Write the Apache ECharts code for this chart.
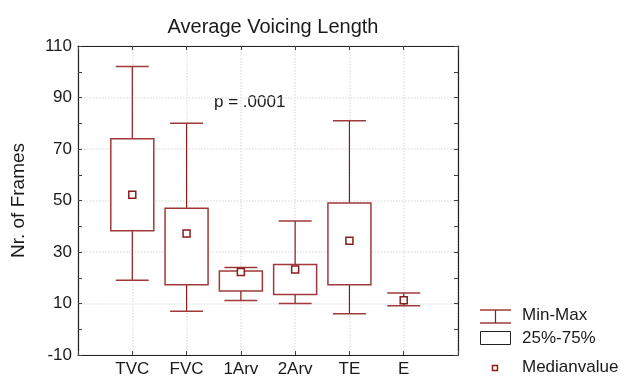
<!DOCTYPE html>
<html lang="en">
<head>
<meta charset="UTF-8">
<title>Average Voicing Length</title>
<script src="https://cdn.jsdelivr.net/npm/echarts@6/dist/echarts.min.js"></script>
<style>
  html, body { margin: 0; padding: 0; background: #fff; }
  #chart { width: 628px; height: 378px; }
</style>
</head>
<body>
<div id="chart"></div>
<script>
// data
var categories = ['', 'TVC', 'FVC', '1Arv', '2Arv', 'TE', 'E', ''];
var groups = ['TVC', 'FVC', '1Arv', '2Arv', 'TE', 'E'];
var minValues = [19, 7, 11.2, 10, 6, 9.1];
var q1Values = [38.3, 17.3, 14.9, 13.5, 17.3, 11.3];
var medianValues = [52.2, 37.2, 22.2, 23.2, 34.4, 11.3];
var q3Values = [74, 47, 22.6, 25.1, 49, 11.3];
var maxValues = [102, 80, 24, 42, 81, 14.1];
var yTicks = { min: -10, max: 110, step: 20 };

var RED = '#8b1c1c';
var BOX = '#a03a3a';
var FONT = '"Liberation Sans", Arial, sans-serif';

var boxData = groups.map(function (g, i) {
  return [g, minValues[i], q1Values[i], medianValues[i], q3Values[i], maxValues[i]];
});

function renderBox(params, api) {
  var x = api.coord([api.value(0), 0])[0];
  var pMin = api.coord([api.value(0), api.value(1)])[1];
  var pQ1 = api.coord([api.value(0), api.value(2)])[1];
  var pMed = api.coord([api.value(0), api.value(3)])[1];
  var pQ3 = api.coord([api.value(0), api.value(4)])[1];
  var pMax = api.coord([api.value(0), api.value(5)])[1];
  var boxW = 43, capW = 33, sq = 7;
  var kids = [
    { type: 'line', shape: { x1: x, y1: pMin, x2: x, y2: pMax }, style: { stroke: RED, lineWidth: 1.2 } },
    { type: 'line', shape: { x1: x - capW / 2, y1: pMin, x2: x + capW / 2, y2: pMin }, style: { stroke: BOX, lineWidth: 1.5 } },
    { type: 'line', shape: { x1: x - capW / 2, y1: pMax, x2: x + capW / 2, y2: pMax }, style: { stroke: BOX, lineWidth: 1.5 } }
  ];
  if (pQ1 - pQ3 > 0.5) {
    kids.push({ type: 'rect', shape: { x: x - boxW / 2, y: pQ3, width: boxW, height: pQ1 - pQ3 },
      style: { fill: '#fff', stroke: BOX, lineWidth: 1.5 } });
  }
  kids.push({ type: 'rect', shape: { x: x - sq / 2, y: pMed - sq / 2, width: sq, height: sq },
    style: { fill: '#fff', stroke: RED, lineWidth: 1.5 } });
  return { type: 'group', children: kids };
}

var gridLine = { show: true, lineStyle: { color: '#e4e4e4', type: 'dotted', width: 1.5 } };

var option = {
  backgroundColor: '#fff',
  animation: false,
  title: {
    text: 'Average Voicing Length',
    left: 268, top: 12, textAlign: 'center',
    textStyle: { fontFamily: FONT, fontSize: 20, fontWeight: 'normal', color: '#1a1a1a' }
  },
  grid: { left: 78, right: 170, top: 46, bottom: 22 },
  xAxis: [{
    type: 'category', data: categories, boundaryGap: false,
    axisLine: { onZero: false, lineStyle: { color: '#222', width: 1.2 } },
    axisTick: { show: true, inside: true, length: 4, lineStyle: { color: '#444' } },
    axisLabel: { fontFamily: FONT, fontSize: 17, color: '#1a1a1a', margin: 6 },
    splitLine: gridLine
  }, {
    type: 'category', data: categories, boundaryGap: false, position: 'top',
    axisLine: { onZero: false, lineStyle: { color: '#222', width: 1.2 } },
    axisTick: { show: true, inside: true, length: 4, lineStyle: { color: '#444' } },
    axisLabel: { show: false }
  }],
  yAxis: [{
    type: 'value', min: yTicks.min, max: yTicks.max, interval: yTicks.step,
    name: 'Nr. of Frames', nameLocation: 'middle', nameGap: 50, nameRotate: 90,
    nameTextStyle: { fontFamily: FONT, fontSize: 19, color: '#1a1a1a' },
    axisLine: { show: true, onZero: false, lineStyle: { color: '#222', width: 1.2 } },
    axisTick: { show: true, inside: true, length: 4, lineStyle: { color: '#444' } },
    minorTick: { show: true, splitNumber: 2, length: 4, lineStyle: { color: '#444' } },
    axisLabel: { fontFamily: FONT, fontSize: 17, color: '#1a1a1a', margin: 6 },
    splitLine: gridLine
  }, {
    type: 'value', min: yTicks.min, max: yTicks.max, interval: yTicks.step, position: 'right',
    axisLine: { show: true, onZero: false, lineStyle: { color: '#222', width: 1.2 } },
    axisTick: { show: true, inside: true, length: 4, lineStyle: { color: '#444' } },
    minorTick: { show: true, splitNumber: 2, length: 4, lineStyle: { color: '#444' } },
    axisLabel: { show: false },
    splitLine: { show: false }
  }],
  series: [{
    type: 'custom',
    renderItem: renderBox,
    encode: { x: 0, y: [1, 2, 3, 4, 5] },
    data: boxData,
    z: 5
  }],
  graphic: [
    { type: 'text', left: 214, top: 94, style: { text: 'p = .0001', font: '17px ' + FONT, fill: '#1a1a1a' } },
    // legend
    { type: 'line', shape: { x1: 480, y1: 310, x2: 511, y2: 310 }, style: { stroke: BOX, lineWidth: 1.5 } },
    { type: 'line', shape: { x1: 480, y1: 323, x2: 511, y2: 323 }, style: { stroke: BOX, lineWidth: 1.5 } },
    { type: 'line', shape: { x1: 495.5, y1: 310, x2: 495.5, y2: 323 }, style: { stroke: RED, lineWidth: 1.2 } },
    { type: 'text', left: 522, top: 307, style: { text: 'Min-Max', font: '17px ' + FONT, fill: '#1a1a1a' } },
    { type: 'rect', shape: { x: 480.5, y: 331.5, width: 30, height: 13 }, style: { fill: '#fff', stroke: '#222', lineWidth: 1 } },
    { type: 'text', left: 522, top: 330, style: { text: '25%-75%', font: '17px ' + FONT, fill: '#1a1a1a' } },
    { type: 'rect', shape: { x: 492.5, y: 365.5, width: 5, height: 5 }, style: { fill: '#fff', stroke: RED, lineWidth: 1.5 } },
    { type: 'text', left: 522, top: 359, style: { text: 'Medianvalue', font: '17px ' + FONT, fill: '#1a1a1a' } }
  ]
};

var chart = echarts.init(document.getElementById('chart'));
chart.setOption(option);
</script>
</body>
</html>
